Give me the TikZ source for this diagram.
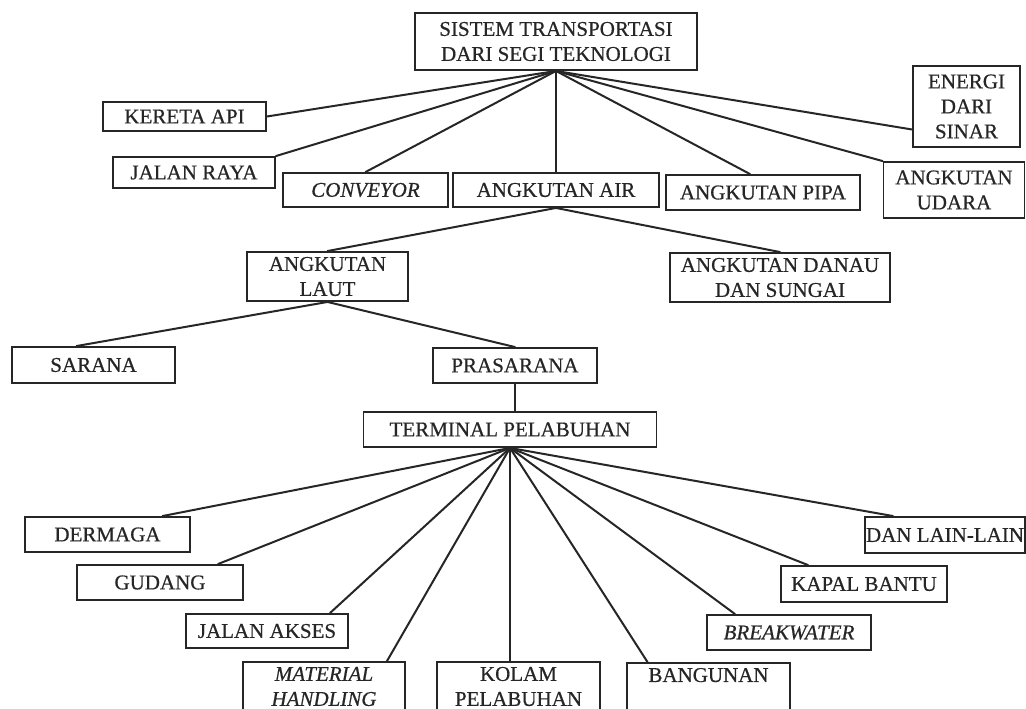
\documentclass[tikz,border=0pt]{standalone}
\usepackage{fontspec}
\setmainfont[FakeBold=0.6]{Liberation Serif}
\begin{document}
\begin{tikzpicture}[x=1pt,y=-1pt,
  box/.style={draw=black!85, line width=1.9pt, inner sep=0pt, align=center,
    font=\fontsize{21}{25}\selectfont, text=black!85},
  conn/.style={draw=black!85, line width=2pt, line cap=round}]
\useasboundingbox (0,0) rectangle (1026,709);
\clip (0,0) rectangle (1026,709);
% top level
\node[box, minimum width=282pt, minimum height=57pt] (top) at (556,41.5) {SISTEM TRANSPORTASI\\DARI SEGI TEKNOLOGI};
\node[box, minimum width=163pt, minimum height=29pt] (kereta) at (184.5,116.5) {KERETA API};
\node[box, minimum width=162pt, minimum height=31pt] (jalan) at (194,172.5) {JALAN RAYA};
\node[box, minimum width=165pt, minimum height=34pt] (conv) at (365.5,190) {\textit{CONVEYOR}};
\node[box, minimum width=206pt, minimum height=34pt] (air) at (556,190) {ANGKUTAN AIR};
\node[box, minimum width=194pt, minimum height=35pt] (pipa) at (763,192.5) {ANGKUTAN PIPA};
\node[box, minimum width=107pt, minimum height=81pt] (energi) at (966.5,106.5) {ENERGI\\DARI\\SINAR};
\node[box, minimum width=141pt, minimum height=56pt] (udara) at (954,190) {ANGKUTAN\\UDARA};
% water
\node[box, minimum width=161pt, minimum height=49pt] (laut) at (327.5,276.5) {ANGKUTAN\\LAUT};
\node[box, minimum width=220pt, minimum height=49pt] (danau) at (780,277.5) {ANGKUTAN DANAU\\DAN SUNGAI};
\node[box, minimum width=163pt, minimum height=36pt] (sarana) at (93.5,365) {SARANA};
\node[box, minimum width=164pt, minimum height=35pt] (prasarana) at (515,365.5) {PRASARANA};
\node[box, minimum width=293pt, minimum height=35pt] (terminal) at (510,429.5) {TERMINAL PELABUHAN};
% bottom
\node[box, minimum width=165pt, minimum height=35pt] (dermaga) at (107.5,534.5) {DERMAGA};
\node[box, minimum width=166pt, minimum height=35pt] (gudang) at (160,582.5) {GUDANG};
\node[box, minimum width=162pt, minimum height=34pt] (akses) at (267,631) {JALAN AKSES};
\node[box, minimum width=162pt, minimum height=49pt] (material) at (324,686.5) {\textit{MATERIAL}\\\textit{HANDLING}};
\node[box, minimum width=163pt, minimum height=49pt] (kolam) at (518.5,686.5) {KOLAM\\PELABUHAN};
\node[box, minimum width=163pt, minimum height=49pt] (bangunan) at (708.5,687.5) {BANGUNAN\\\mbox{}};
\node[box, minimum width=164pt, minimum height=35pt] (breakwater) at (789,632.5) {\textit{BREAKWATER}};
\node[box, minimum width=166pt, minimum height=36pt] (kapal) at (864,584) {KAPAL BANTU};
\node[box, minimum width=160pt, minimum height=36pt] (lain) at (945,535) {DAN LAIN-LAIN};
% connectors from top
\draw[conn] (top.south) -- (kereta.east);
\draw[conn] (top.south) -- (jalan.north east);
\draw[conn] (top.south) -- (conv.north);
\draw[conn] (top.south) -- (air.north);
\draw[conn] (top.south) -- ([xshift=-13pt]pipa.north);
\draw[conn] (top.south) -- (udara.north west);
\draw[conn] (top.south) -- ([yshift=-23pt]energi.west);
% water
\draw[conn] (air.south) -- (laut.north);
\draw[conn] (air.south) -- (danau.north);
\draw[conn] (laut.south) -- ([xshift=-17pt]sarana.north);
\draw[conn] (laut.south) -- (prasarana.north);
\draw[conn] (prasarana.south) -- (prasarana.south |- terminal.north);
% terminal
\draw[conn] (terminal.south) -- ([xshift=55pt]dermaga.north);
\draw[conn] (terminal.south) -- ([xshift=58pt]gudang.north);
\draw[conn] (terminal.south) -- ([xshift=63pt]akses.north);
\draw[conn] (terminal.south) -- ([xshift=63pt]material.north);
\draw[conn] (terminal.south) -- (terminal.south |- kolam.north);
\draw[conn] (terminal.south) -- ([xshift=-61pt]bangunan.north);
\draw[conn] (terminal.south) -- ([xshift=-54pt]breakwater.north);
\draw[conn] (terminal.south) -- ([xshift=-56pt]kapal.north);
\draw[conn] (terminal.south) -- ([xshift=-52pt]lain.north);
\end{tikzpicture}
\end{document}
